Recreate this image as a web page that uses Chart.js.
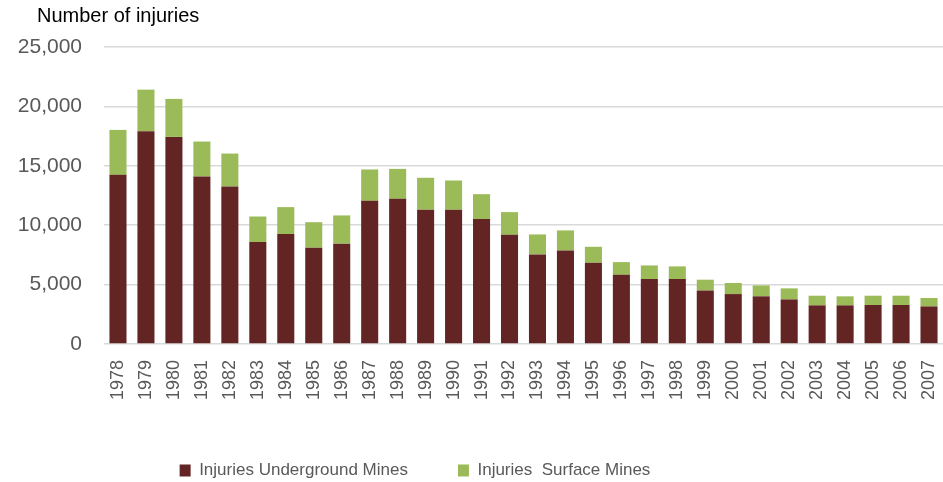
<!DOCTYPE html>
<html>
<head>
<meta charset="utf-8">
<script src="https://cdn.jsdelivr.net/npm/chart.js@4.4.1/dist/chart.umd.min.js"></script>
<style>
  html, body { margin: 0; padding: 0; background: #fff; }
  #wrap { width: 943px; height: 482px; position: relative; }
</style>
</head>
<body>
<div id="wrap"><canvas id="injuriesChart"></canvas></div>
<script>
// DATA
const years = ['1978','1979','1980','1981','1982','1983','1984','1985','1986','1987',
  '1988','1989','1990','1991','1992','1993','1994','1995','1996','1997',
  '1998','1999','2000','2001','2002','2003','2004','2005','2006','2007'];

const underground = [14240, 17910, 17430, 14100, 13260, 8580, 9250, 8100, 8440, 12050,
  12220, 11300, 11300, 10520, 9190, 7540, 7870, 6840, 5820, 5460,
  5460, 4510, 4200, 4010, 3750, 3250, 3250, 3280, 3280, 3160];

const surface = [3780, 3500, 3200, 2940, 2770, 2150, 2270, 2150, 2380, 2640,
  2520, 2690, 2460, 2090, 1910, 1680, 1690, 1340, 1070, 1150,
  1070, 900, 930, 920, 930, 810, 760, 780, 780, 710];

const yTicks = [0, 5000, 10000, 15000, 20000, 25000];

const tickColor = '#595959';

/* axis title drawn top-left, horizontal */
const topTitle = {
  id: 'topTitle',
  afterDraw(chart) {
    const ctx = chart.ctx;
    ctx.save();
    ctx.font = '20px "Liberation Sans"';
    ctx.fillStyle = '#000';
    ctx.textBaseline = 'middle';
    ctx.textAlign = 'left';
    ctx.fillText('Number of injuries', 37, 16);
    ctx.restore();
  }
};

/* legend sits left of centre and a bit lower, like the original */
const legendShift = {
  id: 'legendShift',
  afterLayout(chart) {
    const lg = chart.legend;
    if (!lg) return;
    lg.left = 0;
    lg.right = 830;
    lg.top += 7;
    lg.bottom += 7;
  }
};

const config = {
  type: 'bar',
  data: {
    labels: years,
    datasets: [
      {
        label: 'Injuries Underground Mines',
        data: underground,
        backgroundColor: '#632523',
      },
      {
        label: 'Injuries  Surface Mines',
        data: surface,
        backgroundColor: '#9BBB59',
      }
    ]
  },
  options: {
    responsive: true,
    maintainAspectRatio: false,
    animation: false,
    layout: {
      padding: { top: 47, right: 0, left: 0, bottom: 0 }
    },
    datasets: {
      bar: { barPercentage: 0.61, categoryPercentage: 1.0 }
    },
    scales: {
      x: {
        stacked: true,
        grid: { display: false },
        border: { display: false },
        afterFit: (scale) => {
          scale.paddingLeft = 0;
          scale.paddingRight = 0;
          scale.height -= 3;
        },
        ticks: {
          color: tickColor,
          font: { family: 'Liberation Sans', size: 18 },
          minRotation: 90,
          maxRotation: 90,
          autoSkip: false,
          padding: 8
        }
      },
      y: {
        stacked: true,
        min: 0,
        max: 25000,
        grid: { color: '#d9d9d9', lineWidth: 1.5, drawTicks: false },
        border: { display: false },
        afterBuildTicks: (scale) => {
          scale.ticks = yTicks.map(v => ({ value: v }));
        },
        afterFit: (scale) => { scale.width = 104; },
        ticks: {
          color: tickColor,
          font: { family: 'Liberation Sans', size: 21 },
          padding: 22,
          callback: (v) => v.toLocaleString('en-US')
        }
      }
    },
    plugins: {
      tooltip: { enabled: false },
      title: { display: false },
      legend: {
        position: 'bottom',
        labels: {
          boxWidth: 11,
          boxHeight: 12,
          padding: 50,
          color: '#595959',
          font: { family: 'Liberation Sans', size: 17 }
        }
      }
    }
  },
  plugins: [topTitle, legendShift]
};

const injuriesChart = new Chart(document.getElementById('injuriesChart'), config);
</script>
</body>
</html>
